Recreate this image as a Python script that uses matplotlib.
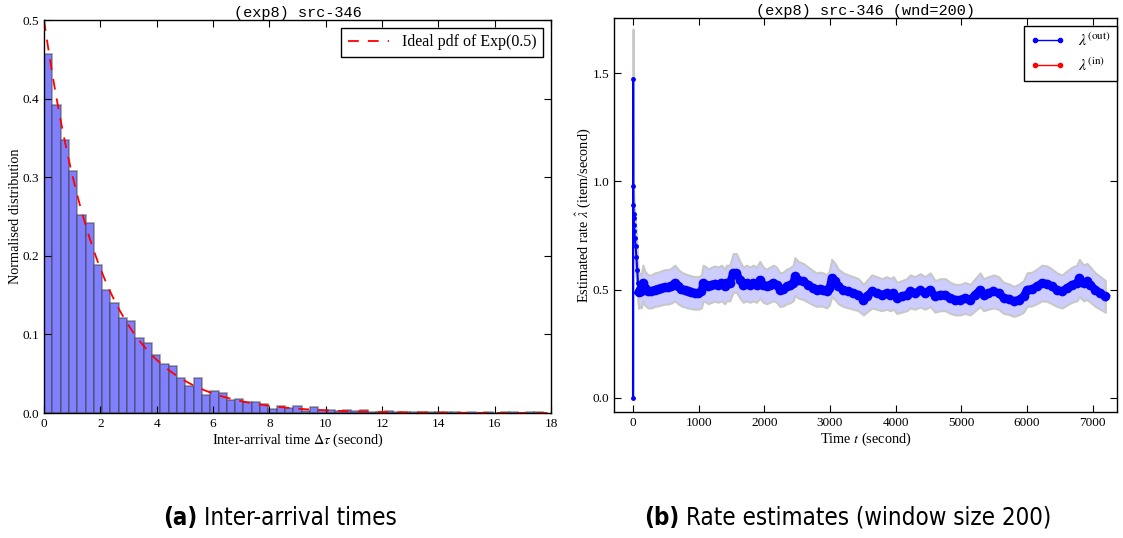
import matplotlib
matplotlib.use("Agg")
import matplotlib.pyplot as plt
from matplotlib import font_manager
import numpy as np

# ---- data ----
bin_width = 0.295
hist_heights = [
    0.457, 0.392, 0.347, 0.308, 0.252, 0.242, 0.188, 0.157, 0.140, 0.121,
    0.117, 0.096, 0.0885, 0.074, 0.063, 0.060, 0.044, 0.034, 0.0447, 0.0226,
    0.028, 0.0255, 0.017, 0.018, 0.014, 0.014, 0.012, 0.0055, 0.0085, 0.0068,
    0.0085, 0.0026, 0.0077, 0.0043, 0.0034, 0.0026, 0.0034, 0.0026, 0.0043, 0.0017,
    0.0017, 0.0026, 0.0013, 0.0009, 0.0009, 0.0013, 0.0009, 0.0009, 0.0013, 0.0009,
    0.0004, 0.0009, 0.0004, 0.0009, 0.0004, 0.0009, 0.0009, 0.0004, 0.0009, 0.0009,
]
exp_rate = 0.5

rate_t = [
    0, 2, 4, 6, 8, 10, 14, 20, 28, 40, 52, 65, 76, 86,
    102, 127, 152, 178, 229, 280, 331, 381, 432, 483, 534, 585, 636, 686, 737,
    788, 839, 890, 941, 991, 1042, 1068, 1119, 1144, 1195, 1246, 1297, 1347,
    1398, 1424, 1474, 1525, 1576, 1627, 1678, 1729, 1780, 1830, 1881, 1932,
    1983, 2034, 2085, 2135, 2186, 2237, 2288, 2339, 2390, 2440, 2466, 2517,
    2593, 2670, 2746, 2797, 2847, 2898, 2949, 2990, 3026, 3077, 3127, 3204,
    3280, 3356, 3432, 3509, 3560, 3636, 3712, 3788, 3865, 3916, 3967, 4017,
    4094, 4170, 4221, 4297, 4373, 4450, 4526, 4602, 4679, 4755, 4831, 4908,
    4982, 5058, 5135, 5211, 5287, 5338, 5414, 5490, 5567, 5643, 5719, 5796,
    5872, 5948, 5999, 6075, 6151, 6227, 6304, 6380, 6456, 6533, 6609, 6685,
    6761, 6797, 6863, 6914, 6965, 7041, 7117, 7193,
]
rate_out = [
    0.0, 1.475, 0.98, 0.89, 0.85, 0.83, 0.80, 0.77, 0.74, 0.70, 0.65, 0.59, 0.53, 0.49,
    0.500, 0.492, 0.531, 0.508, 0.492, 0.492, 0.500, 0.503, 0.508, 0.513, 0.513,
    0.519, 0.531, 0.515, 0.503, 0.497, 0.492, 0.488, 0.485, 0.485, 0.492, 0.531,
    0.523, 0.515, 0.523, 0.528, 0.523, 0.531, 0.515, 0.531, 0.531, 0.577, 0.577,
    0.546, 0.523, 0.531, 0.523, 0.531, 0.523, 0.546, 0.523, 0.515, 0.523, 0.531,
    0.523, 0.500, 0.503, 0.515, 0.520, 0.531, 0.561, 0.546, 0.538, 0.523, 0.508,
    0.500, 0.503, 0.500, 0.492, 0.508, 0.554, 0.538, 0.515, 0.500, 0.492, 0.485,
    0.477, 0.454, 0.469, 0.492, 0.485, 0.477, 0.485, 0.477, 0.485, 0.462, 0.469,
    0.477, 0.492, 0.485, 0.497, 0.485, 0.500, 0.469, 0.477, 0.477, 0.462, 0.454,
    0.454, 0.462, 0.454, 0.477, 0.500, 0.477, 0.485, 0.492, 0.485, 0.462, 0.457,
    0.446, 0.454, 0.469, 0.500, 0.503, 0.515, 0.531, 0.528, 0.515, 0.500, 0.492,
    0.508, 0.523, 0.531, 0.554, 0.531, 0.538, 0.523, 0.500, 0.485, 0.469,
]
ci_rel = 0.155  # relative half-width of the shaded band
n_warmup = 13   # first estimates (sparse spike), drawn thin

# ---- fonts ----
fonts = font_manager.fontManager.ttflist
installed = {f.name for f in fonts}
serif = "Liberation Serif" if "Liberation Serif" in installed else "DejaVu Serif"
mono = "Liberation Mono" if "Liberation Mono" in installed else "DejaVu Sans Mono"
cap_font, cap_stretch = "DejaVu Sans", "normal"
for f in fonts:
    if f.name == "Liberation Sans Narrow":
        cap_font, cap_stretch = f.name, "normal"
        break
    if f.name == "DejaVu Sans" and str(f.stretch) in ("condensed", "semi-condensed"):
        cap_stretch = "condensed"

plt.rcParams["font.family"] = serif
plt.rcParams["mathtext.fontset"] = "stix"
plt.rcParams["xtick.direction"] = "in"
plt.rcParams["ytick.direction"] = "in"
plt.rcParams["xtick.top"] = True
plt.rcParams["ytick.right"] = True
plt.rcParams["xtick.major.size"] = 5
plt.rcParams["ytick.major.size"] = 5
plt.rcParams["axes.linewidth"] = 1.0

fig = plt.figure(figsize=(11.23, 5.38), dpi=100)
ax1 = fig.add_axes([0.0392, 0.2323, 0.4515, 0.7305])
ax2 = fig.add_axes([0.5467, 0.2342, 0.4479, 0.7323])

# ---- (a) histogram ----
edges = np.arange(len(hist_heights)) * bin_width
ax1.bar(edges, hist_heights, width=bin_width, align="edge",
        facecolor=(0.5, 0.5, 1.0), edgecolor=(0.25, 0.25, 0.25, 0.55), linewidth=1.1)
xs = np.linspace(0, 18, 400)
ax1.plot(xs, exp_rate * np.exp(-exp_rate * xs), "r--", lw=1.3,
         dashes=(6, 5), label="Ideal pdf of Exp(0.5)")
ax1.set_xlim(0, 18)
ax1.set_ylim(0, 0.5)
ax1.set_xticks(np.arange(0, 19, 2))
ax1.set_yticks(np.arange(0, 0.51, 0.1))
ax1.yaxis.set_major_formatter(plt.FormatStrFormatter("%.1f"))
ax1.tick_params(labelsize=9.5)
ax1.set_xlabel(r"Inter-arrival time $\Delta\tau$ (second)", fontsize=10.3, labelpad=1)
ax1.set_ylabel("Normalised distribution", fontsize=10.3, labelpad=0.5)
ax1.set_title("(exp8) src-346", family=mono, fontsize=11, pad=0)
leg1 = ax1.legend(loc="upper right", fontsize=11.5, fancybox=False,
                  edgecolor="black", framealpha=1, handlelength=2.6)
leg1.get_frame().set_linewidth(1.0)

# ---- (b) rate estimate ----
t = np.array(rate_t)
lam = np.array(rate_out)
ax2.fill_between(t, lam * (1 - ci_rel), lam * (1 + ci_rel), facecolor="#ccccff",
                 edgecolor="#c8c8c8", linewidth=1.5, zorder=1)
ax2.plot(t[:n_warmup + 1], lam[:n_warmup + 1], "-o", color="blue", lw=1.5, ms=3.5,
         mew=0, zorder=3)
ax2.plot(t[n_warmup:], lam[n_warmup:], "-o", color="blue", lw=5.5, ms=7, mew=0,
         zorder=3)
ax2.plot([], [], "-o", color="blue", lw=1, ms=3, label=r"$\lambda^{(\mathrm{out})}$")
ax2.plot([], [], "-o", color="red", lw=1, ms=3, label=r"$\lambda^{(\mathrm{in})}$")
ax2.set_xlim(-290, 7370)
ax2.set_ylim(-0.065, 1.755)
ax2.set_xticks(np.arange(0, 7001, 1000))
ax2.set_yticks([0.0, 0.5, 1.0, 1.5])
ax2.yaxis.set_major_formatter(plt.FormatStrFormatter("%.1f"))
ax2.tick_params(labelsize=9.5)
ax2.set_xlabel(r"Time $t$ (second)", fontsize=10.3, labelpad=1)
ax2.set_ylabel(r"Estimated rate $\hat{\lambda}$ (item/second)", fontsize=10.3, labelpad=-0.5)
ax2.set_title("(exp8) src-346 (wnd=200)", family=mono, fontsize=11, pad=0)
leg2 = ax2.legend(loc="upper right", bbox_to_anchor=(1.0, 0.98), borderaxespad=0,
                  fontsize=11.5, fancybox=False, edgecolor="black", framealpha=1,
                  numpoints=2, handlelength=2.2)
leg2.get_frame().set_linewidth(1.0)

# ---- sub-captions ----
W = 1123.0
cy = 1 - 518 / 538.0
cap = dict(family=cap_font, fontstretch=cap_stretch, fontsize=17.3, va="center")
fig.text(197 / W, cy, "(a)", weight="bold", ha="right", **cap)
fig.text(204 / W, cy, "Inter-arrival times", ha="left", **cap)
fig.text(679 / W, cy, "(b)", weight="bold", ha="right", **cap)
fig.text(686 / W, cy, "Rate estimates (window size 200)", ha="left", **cap)

fig.savefig("out.png", dpi=100)
